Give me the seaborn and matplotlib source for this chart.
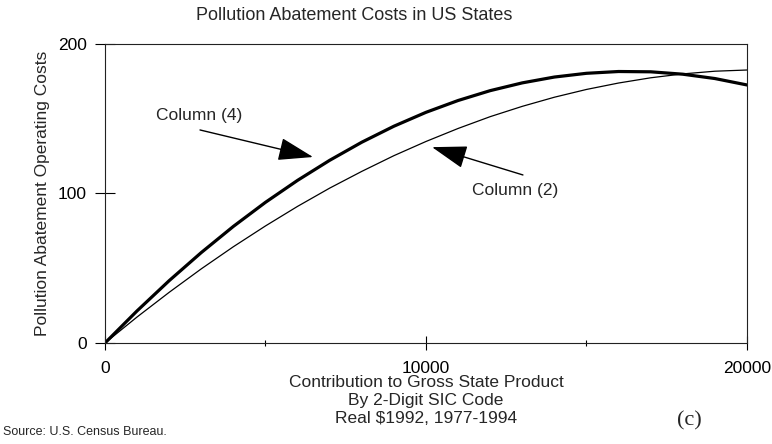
import numpy as np
import pandas as pd
import matplotlib
matplotlib.use("Agg")
import matplotlib.pyplot as plt
import seaborn as sns

# values (x in $, y in abatement costs)
gsp = [0, 1000, 2000, 3000, 4000, 5000, 6000, 7000, 8000, 9000, 10000,
       11000, 12000, 13000, 14000, 15000, 16000, 17000, 18000, 19000, 20000]
col4 = [0, 21.5, 41.7, 60.5, 78.0, 94.1, 108.8, 122.2, 134.3, 145.0, 154.3,
        162.2, 168.8, 174.0, 177.9, 180.4, 181.6, 181.4, 179.8, 176.9, 172.6]
col2 = [0, 17.4, 33.9, 49.6, 64.4, 78.3, 91.4, 103.6, 114.8, 125.3, 134.8,
        143.5, 151.4, 158.3, 164.4, 169.6, 173.9, 177.4, 180.0, 181.8, 182.6]

df = pd.DataFrame({"gsp": gsp, "col4": col4, "col2": col2})

sns.set_style("white")
plt.rcParams["font.family"] = ["Liberation Sans", "DejaVu Sans"]

fig = plt.figure(figsize=(7.72, 4.44), dpi=100)
ax = fig.add_axes([0.136, 0.2275, 0.8316, 0.6734])

sns.lineplot(x="gsp", y="col4", data=df, color="black", linewidth=2.3, ax=ax)
sns.lineplot(x="gsp", y="col2", data=df, color="black", linewidth=0.9, ax=ax)

ax.set_xlim(0, 20000)
ax.set_ylim(0, 200)
ax.set_xticks([0, 10000, 20000])
ax.set_xticks([5000, 15000], minor=True)
ax.set_yticks([0, 100, 200])
# seaborn's white style hides ticks, switch them back on
ax.tick_params(axis="y", left=True, direction="inout", length=14.4, width=0.8,
               pad=6, labelsize=12.5, colors="black")
ax.tick_params(axis="x", which="major", bottom=True, direction="inout",
               length=9.4, width=0.8, pad=8, labelsize=12.5, colors="black")
ax.tick_params(axis="x", which="minor", bottom=True, direction="inout",
               length=5, width=0.8, color="black")
for sp in ax.spines.values():
    sp.set_color("#222222")
    sp.set_linewidth(0.8)

ax.set_ylabel("Pollution Abatement Operating Costs", fontsize=12.5)
ax.yaxis.set_label_coords(-0.086, 0.5)
ax.set_xlabel("Contribution to Gross State Product\nBy 2-Digit SIC Code\nReal $1992, 1977-1994",
              fontsize=12.5, linespacing=1.22)
ax.xaxis.set_label_coords(0.5, -0.108)

arrow = dict(arrowstyle="-|>,head_length=1.1,head_width=0.36",
             mutation_scale=20, color="black", lw=1, shrinkA=0, shrinkB=0)
ax.annotate("", xy=(6480, 124.4), xytext=(2960, 142.5), arrowprops=arrow)
ax.text(2930, 152.5, "Column (4)", ha="center", va="center", fontsize=12.5)
ax.annotate("", xy=(10190, 131), xytext=(13020, 112.4), arrowprops=arrow)
ax.text(12770, 102.3, "Column (2)", ha="center", va="center", fontsize=12.5)

fig.text(354 / 772, 1 - 16 / 444, "Pollution Abatement Costs in US States",
         ha="center", va="center", fontsize=13)
fig.text(3 / 772, 1 - 432 / 444, "Source: U.S. Census Bureau.",
         ha="left", va="center", fontsize=9)
fig.text(689 / 772, 1 - 421 / 444, "(c)", ha="center", va="center",
         fontsize=16, family=["Liberation Serif", "DejaVu Serif"])

fig.savefig("out.png", dpi=100)
